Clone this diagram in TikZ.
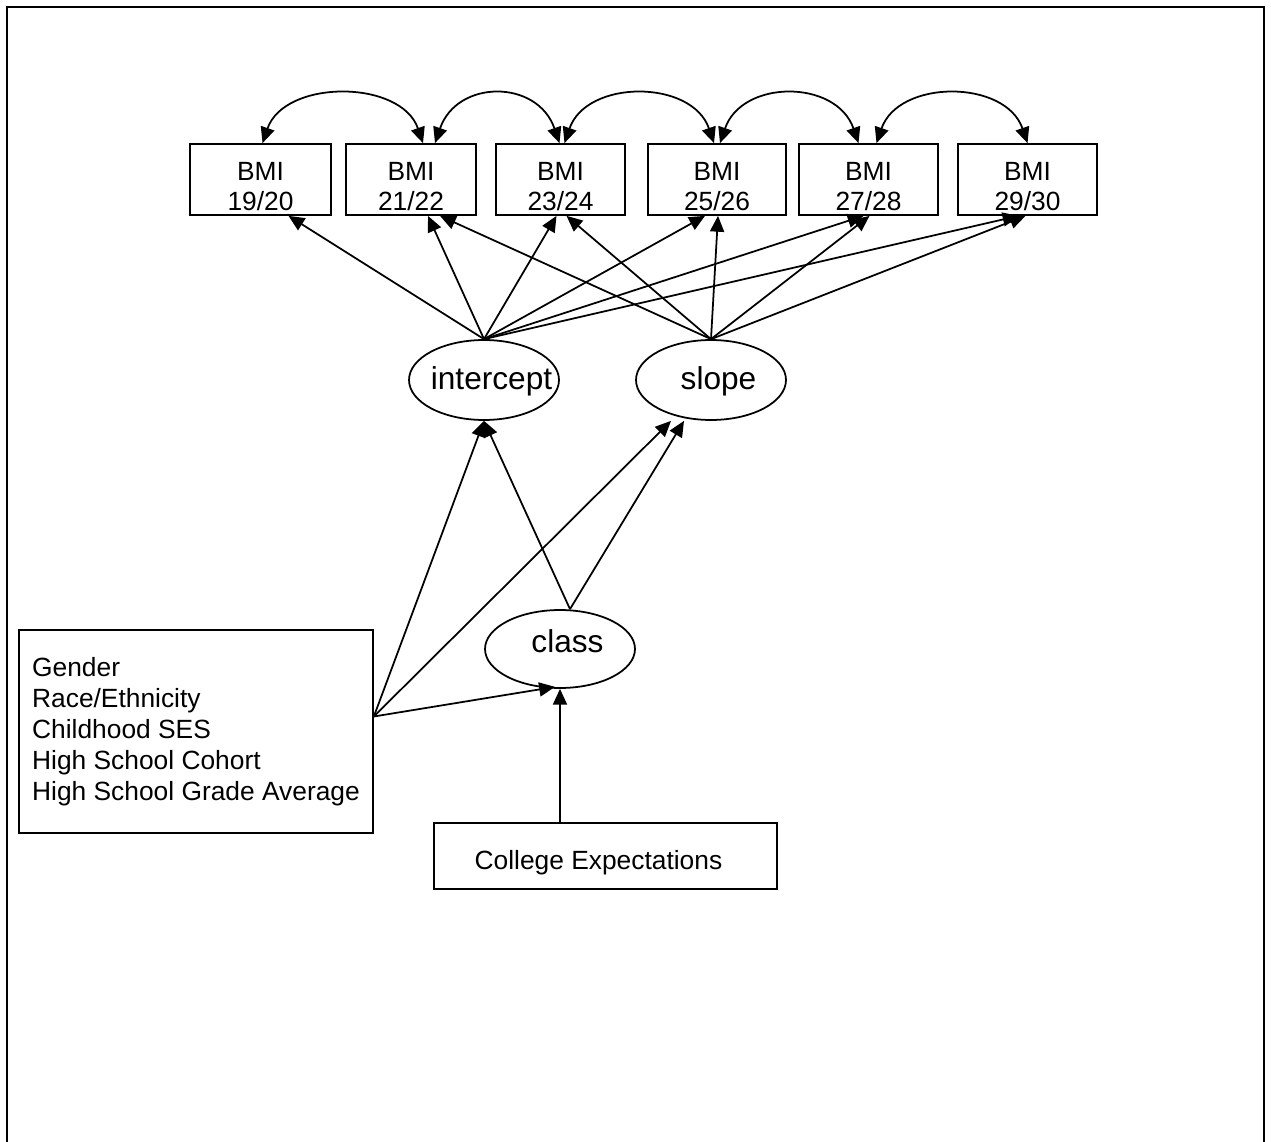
\documentclass[tikz,border=0pt]{standalone}
\usepackage{fontspec}
\setmainfont{Liberation Sans}
\usetikzlibrary{arrows.meta,calc,shapes.geometric}
\tikzset{
  bmibox/.style={draw, line width=1pt, minimum height=1.42cm, inner sep=0pt,
                 align=center, font=\fontsize{15}{17}\selectfont},
  latent/.style={draw, ellipse, line width=1pt, minimum width=3cm, minimum height=1.6cm,
                 inner sep=0pt, font=\fontsize{18}{21}\selectfont},
  covbox/.style={draw, line width=1pt, inner sep=0pt, font=\fontsize{15}{17.6}\selectfont},
  arr/.style={-{Triangle[length=9pt,width=8pt]}, line width=1pt},
  dblarr/.style={{Triangle[length=9pt,width=8pt]}-{Triangle[length=9pt,width=8pt]}, line width=1pt}
}
\newcommand{\lat}[2][-5.4pt]{\makebox[1.2cm]{\hspace*{0.3cm}\raisebox{#1}[0pt][0pt]{#2}}}

\begin{document}
\begin{tikzpicture}[x=0.02cm, y=-0.02cm]
\useasboundingbox (0,0) rectangle (1271,1142);
% outer frame (open at the bottom)
\draw[line width=1.2pt] (7,1142) -- (7,7) -- (1264,7) -- (1264,1142);
% repeated BMI measures
\node[bmibox, minimum width=2.82cm] (bmi1) at (260.5,179.5) {\rule{0pt}{18pt}BMI\\19/20};
\node[bmibox, minimum width=2.60cm] (bmi2) at (411,179.5) {\rule{0pt}{18pt}BMI\\21/22};
\node[bmibox, minimum width=2.58cm] (bmi3) at (560.5,179.5) {\rule{0pt}{18pt}BMI\\23/24};
\node[bmibox, minimum width=2.76cm] (bmi4) at (717,179.5) {\rule{0pt}{18pt}BMI\\25/26};
\node[bmibox, minimum width=2.78cm] (bmi5) at (868.5,179.5) {\rule{0pt}{18pt}BMI\\27/28};
\node[bmibox, minimum width=2.78cm] (bmi6) at (1027.5,179.5) {\rule{0pt}{18pt}BMI\\29/30};
% growth factors and latent class
\node[latent] (icept) at (484,380) {\lat{intercept}};
\node[latent] (slope) at (711,380) {\lat{slope}};
\node[latent, minimum height=1.56cm] (class) at (560,649) {\lat[-2pt]{class}};
% covariates
\node[covbox, minimum width=7.08cm, minimum height=4.06cm, align=left] (covs) at (196,731.5)
  {Gender\\Race/Ethnicity\\Childhood SES\\High School Cohort\\High School Grade Average};
\node[covbox, minimum width=6.86cm, minimum height=1.32cm, text height=18pt, text depth=3pt]
  (colexp) at (605.5,856) {College Expectations\hspace*{8pt}};
% residual covariances between adjacent waves
\foreach \a/\b/\da/\db in {1/2/2/12, 2/3/24/-1, 3/4/4/-3, 4/5/3/-10, 5/6/8/0}
  \draw[dblarr] ($(bmi\a.north)+(\da,0)$) .. controls +(22,-64) and +(-22,-64)
    .. ($(bmi\b.north)+(\db,0)$);
% loadings
\foreach \n/\dx in {1/28, 2/17, 3/-4, 4/-12, 5/-5, 6/-9}
  \draw[arr] (icept.north) -- ($(bmi\n.south)+(\dx,0)$);
\foreach \n/\dx in {2/29, 3/6, 4/1, 5/1, 6/-2}
  \draw[arr] (slope.north) -- ($(bmi\n.south)+(\dx,0)$);
% predictors
\coordinate (covout) at ($(covs.east)+(0,-15)$);
\coordinate (classout) at ($(class.north)+(10,0)$);
\draw[arr] (covout) -- (icept.south);
\draw[arr] (covout) -- ($(slope.south)+(-40,0)$);
\draw[arr] (covout) -- ($(class.south)+(-5,-2)$);
\draw[arr] (classout) -- (icept.south);
\draw[arr] (classout) -- ($(slope.south)+(-27,0)$);
\draw[arr] (colexp.north -| class.south) -- (class.south);
\end{tikzpicture}
\end{document}
